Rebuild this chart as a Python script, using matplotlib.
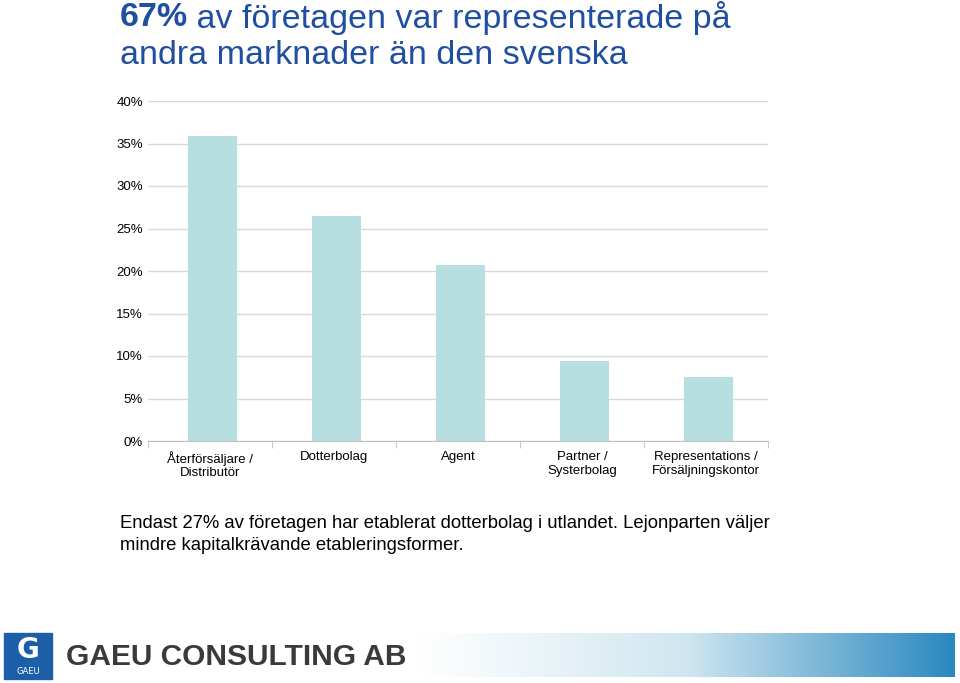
import matplotlib
matplotlib.use("Agg")
import matplotlib.pyplot as plt
import numpy as np
from matplotlib.patches import Rectangle
from matplotlib.colors import LinearSegmentedColormap

categories = ["Återförsäljare /\nDistributör", "Dotterbolag", "Agent", "Partner /\nSysterbolag", "Representations /\nFörsäljningskontor"]
values = [35.9, 26.5, 20.7, 9.4, 7.5]
yticks = [0, 5, 10, 15, 20, 25, 30, 35, 40]

fig = plt.figure(figsize=(9.6, 6.83), dpi=100)
W, H = 960, 683
ax = fig.add_axes([148/W, 1-441/H, 620/W, 340/H])
x = np.arange(len(categories))
ax.bar(x + 0.02, values, width=0.4, color="#b7dfe2")
ax.set_xlim(-0.5, len(categories)-0.5)
ax.set_ylim(0, 40)
ax.set_yticks(yticks)
ax.set_yticklabels([f"{v}%" for v in yticks], fontsize=9.5, family="Liberation Sans")
ax.yaxis.grid(True, color="#d9d9d9", linewidth=1)
ax.set_axisbelow(True)
ax.set_xticks(np.arange(len(categories)+1)-0.5, minor=True)
ax.set_xticks(x)
ax.set_xticklabels(categories, fontsize=9.5, family="Liberation Sans")
ax.tick_params(axis="x", which="major", length=0, pad=7)
ax.tick_params(axis="x", which="minor", length=5, color="#bfbfbf")
ax.tick_params(axis="y", length=0)
for s in ["top", "right", "left"]:
    ax.spines[s].set_visible(False)
ax.spines["bottom"].set_color("#bfbfbf")

blue = "#1f4fa0"
fs = 24.5
fig.text(120/W, 1-18/H, "67%", fontsize=fs, fontweight="bold", color=blue, va="center", family="Liberation Sans")
fig.text(187/W, 1-18/H, " av företagen var representerade på", fontsize=fs, color=blue, va="center", family="Liberation Sans")
fig.text(120/W, 1-56/H, "andra marknader än den svenska", fontsize=fs, color=blue, va="center", family="Liberation Sans")
fig.text(120/W, 1-523/H, "Endast 27% av företagen har etablerat dotterbolag i utlandet. Lejonparten väljer", fontsize=13.3, va="center", family="Liberation Sans")
fig.text(120/W, 1-546/H, "mindre kapitalkrävande etableringsformer.", fontsize=13.3, va="center", family="Liberation Sans")

# footer
fax = fig.add_axes([0, 0, 1, 60/H]); fax.axis("off")
fax.set_xlim(0, W); fax.set_ylim(683, 623)
grad = np.linspace(0, 1, 256)[None, :]
cm = LinearSegmentedColormap.from_list("g", ["#ffffff", "#cfe6f0", "#2a88c0"])
fax.imshow(grad, extent=[420, 955, 677, 633], aspect="auto", cmap=cm)
fax.add_patch(Rectangle((4, 633), 48, 46, color="#1c5fa8"))
fax.text(28, 650, "G", color="white", fontsize=20, fontweight="bold", ha="center", va="center")
fax.text(28, 671, "GAEU", color="white", fontsize=6, ha="center", va="center")
fax.text(66, 657, "GAEU CONSULTING AB", color="#3a3a3a", fontsize=21.5, fontweight="bold", va="center", family="Liberation Sans")

fig.savefig("out.png", dpi=100)
